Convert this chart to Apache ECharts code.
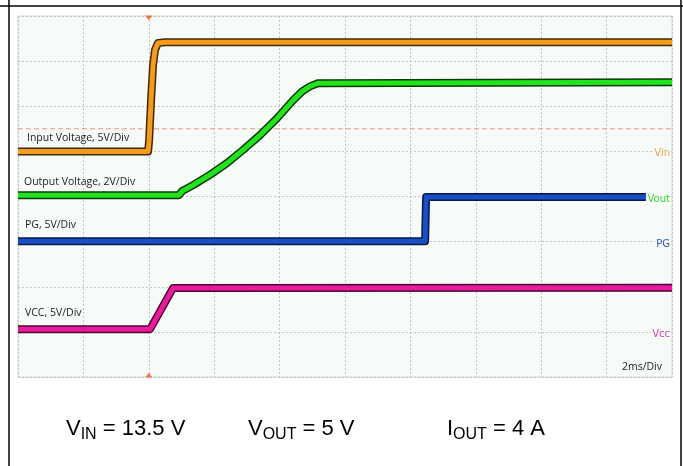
<!DOCTYPE html>
<html>
<head>
<meta charset="utf-8">
<script src="https://cdn.jsdelivr.net/npm/echarts@6/dist/echarts.min.js"></script>
<style>
html,body{margin:0;padding:0;background:#fff;}
#chart{width:683px;height:466px;}
</style>
</head>
<body>
<div id="chart"></div>
<script>
// Time axis in ms (2 ms/div, 10 divisions), vertical axis in screen divisions (8 divisions)
const xTicks = [0, 2, 4, 6, 8, 10, 12, 14, 16, 18, 20];
const yTicks = [0, 1, 2, 3, 4, 5, 6, 7, 8];

// Input Voltage (5 V/div) — [time ms, divisions]
const vinTime = [0, 3.98, 4.01, 4.07, 4.13, 4.19, 4.28, 4.5, 20];
const vinDiv  = [5.0, 5.0, 5.25, 6.14, 6.91, 7.25, 7.40, 7.42, 7.42];

// Output Voltage (2 V/div)
const voutTime = [0, 4.92, 5.02, 5.35, 5.87, 6.39, 6.88, 7.40, 7.92, 8.41, 8.69, 8.93, 9.17, 20];
const voutDiv  = [4.03, 4.03, 4.12, 4.25, 4.48, 4.74, 5.03, 5.36, 5.73, 6.13, 6.33, 6.44, 6.51, 6.53];

// PG (5 V/div)
const pgTime = [0, 12.45, 12.48, 19.2];
const pgDiv  = [3.01, 3.01, 3.99, 3.99];

// VCC (5 V/div)
const vccTime = [0, 4.04, 4.74, 20];
const vccDiv  = [1.06, 1.06, 1.97, 1.98];

// Trigger level reference and trigger time
const triggerLevelDiv = 5.5;
const triggerTime = 4;

// Labels
const traceLabels = ['Input Voltage, 5V/Div', 'Output Voltage, 2V/Div', 'PG, 5V/Div', 'VCC, 5V/Div'];
const channelMarkers = ['Vin', 'Vout', 'PG', 'Vcc'];
const timebase = '2ms/Div';
const conditions = [
  [['V', 'IN'], ' = 13.5 V'],
  [['V', 'OUT'], ' = 5 V'],
  [['I', 'OUT'], ' = 4 A']
];

function pairs(t, v) { return t.map((x, i) => [x, v[i]]); }

const PLOT_BG = '#f7fbf7';

function trace(name, t, v, color, dark) {
  return [
    { type: 'line', name: name + '_edge', data: pairs(t, v), showSymbol: false, silent: true,
      lineStyle: { color: dark, width: 8, cap: 'butt', join: 'round' }, z: 2 },
    { type: 'line', name: name, data: pairs(t, v), showSymbol: false, silent: true,
      lineStyle: { color: color, width: 5, cap: 'butt', join: 'round' }, z: 3 }
  ];
}

// build a text with subscript out of separate text elements, placed by measured widths
const measureCtx = document.createElement('canvas').getContext('2d');
function condText(x0, midY, cond) {
  const MAIN = 22, SUB = 16, FAM = '"Liberation Sans", Arial, sans-serif';
  const parts = [
    { t: cond[0][0], size: MAIN, dy: 0 },
    { t: cond[0][1], size: SUB, dy: 6 },
    { t: cond[1], size: MAIN, dy: 0 }
  ];
  let x = x0;
  return parts.map(p => {
    const font = p.size + 'px ' + FAM;
    measureCtx.font = font;
    const el = { type: 'text', z: 10, style: { text: p.t, x: x, y: midY + p.dy, verticalAlign: 'middle', font: font, fill: '#000' } };
    x += measureCtx.measureText(p.t).width;
    return el;
  });
}

const chart = echarts.init(document.getElementById('chart'), null, { renderer: 'canvas' });

const labelFont = '10.5px "Open Sans"';
const markerFont = '10px "DejaVu Sans"';

const option = {
  animation: false,
  backgroundColor: '#ffffff',
  grid: { left: 18, top: 16, width: 654, height: 361, show: true,
          backgroundColor: PLOT_BG, borderColor: '#d2d6d2', borderWidth: 1 },
  xAxis: { type: 'value', min: xTicks[0], max: xTicks[xTicks.length - 1], interval: 2,
           axisLine: { show: false }, axisTick: { show: false }, axisLabel: { show: false },
           splitLine: { show: true, lineStyle: { color: '#c4c4c4', type: [2, 2], width: 1 } } },
  yAxis: { type: 'value', min: yTicks[0], max: yTicks[yTicks.length - 1], interval: 1,
           axisLine: { show: false }, axisTick: { show: false }, axisLabel: { show: false },
           splitLine: { show: true, lineStyle: { color: '#c4c4c4', type: [2, 2], width: 1 } } },
  series: [
    { type: 'line', data: [[xTicks[0], triggerLevelDiv], [xTicks[xTicks.length - 1], triggerLevelDiv]],
      showSymbol: false, silent: true, z: 1,
      lineStyle: { color: '#e8957f', width: 1, type: [5, 3] } },
    ...trace('Vin', vinTime, vinDiv, '#f59b1c', '#3e2a05'),
    ...trace('Vout', voutTime, voutDiv, '#22e41e', '#0d3a09'),
    ...trace('PG', pgTime, pgDiv, '#1a4fc4', '#061a48'),
    ...trace('VCC', vccTime, vccDiv, '#ea1a9c', '#4a0632'),
    { type: 'scatter', data: [[triggerTime, 8]], symbol: 'triangle', symbolSize: [7, 5],
      symbolRotate: 180, symbolOffset: [0, 2], itemStyle: { color: '#f25a26' }, clip: false, silent: true, z: 5 },
    { type: 'scatter', data: [[triggerTime, 0]], symbol: 'triangle', symbolSize: [7, 5],
      symbolOffset: [0, -2], itemStyle: { color: '#f25a26' }, clip: false, silent: true, z: 5 }
  ],
  graphic: [
    // table cell borders
    { type: 'line', shape: { x1: 0, y1: 6, x2: 683, y2: 6 }, style: { stroke: '#000', lineWidth: 1.5 } },
    { type: 'line', shape: { x1: 9, y1: 0, x2: 9, y2: 466 }, style: { stroke: '#000', lineWidth: 1.5 } },
    { type: 'line', shape: { x1: 681, y1: 0, x2: 681, y2: 466 }, style: { stroke: '#000', lineWidth: 1.5 } },
    // trace labels
    { type: 'text', z: 10, style: { text: traceLabels[0], x: 27, y: 138, verticalAlign: 'middle', font: labelFont, fill: '#1c1c1c' } },
    { type: 'text', z: 10, style: { text: traceLabels[1], x: 24, y: 182, verticalAlign: 'middle', font: labelFont, fill: '#1c1c1c' } },
    { type: 'text', z: 10, style: { text: traceLabels[2], x: 25, y: 225, verticalAlign: 'middle', font: labelFont, fill: '#1c1c1c' } },
    { type: 'text', z: 10, style: { text: traceLabels[3], x: 25, y: 313, verticalAlign: 'middle', font: labelFont, fill: '#1c1c1c' } },
    // channel markers
    { type: 'text', z: 10, style: { text: channelMarkers[0], x: 671, y: 153, align: 'right', verticalAlign: 'middle', font: markerFont, fill: '#f0a54c', backgroundColor: PLOT_BG, padding: [1, 1] } },
    { type: 'text', z: 10, style: { text: channelMarkers[1], x: 671, y: 199, align: 'right', verticalAlign: 'middle', font: markerFont, fill: '#3cd83a', backgroundColor: PLOT_BG, padding: [1, 1] } },
    { type: 'text', z: 10, style: { text: channelMarkers[2], x: 671, y: 244, align: 'right', verticalAlign: 'middle', font: markerFont, fill: '#3355c6', backgroundColor: PLOT_BG, padding: [1, 1] } },
    { type: 'text', z: 10, style: { text: channelMarkers[3], x: 671, y: 334, align: 'right', verticalAlign: 'middle', font: markerFont, fill: '#e03cae', backgroundColor: PLOT_BG, padding: [1, 1] } },
    { type: 'text', z: 10, style: { text: timebase, x: 662, y: 367, align: 'right', verticalAlign: 'middle', font: labelFont, fill: '#1c1c1c' } },
    // conditions
    ...condText(66, 429, conditions[0]),
    ...condText(248, 429, conditions[1]),
    ...condText(447, 429, conditions[2])
  ]
};
chart.setOption(option);
</script>
</body>
</html>
